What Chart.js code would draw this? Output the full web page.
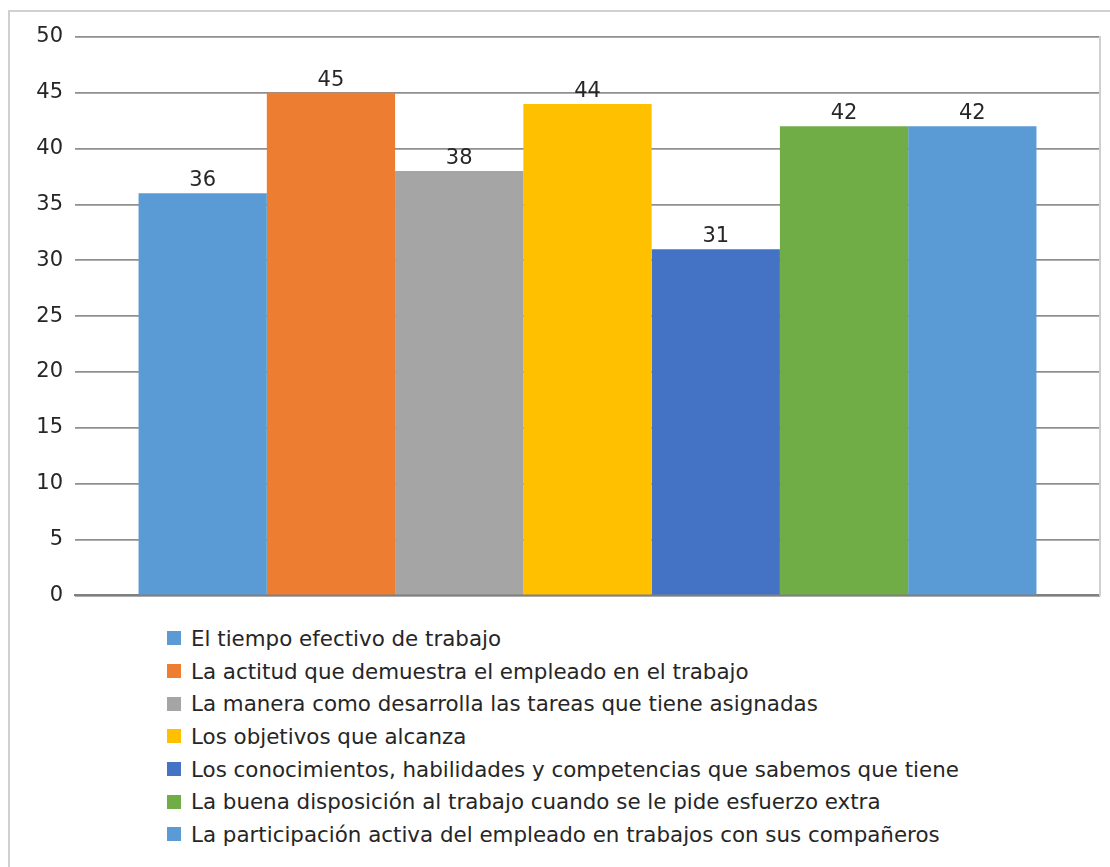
<!DOCTYPE html>
<html>
<head>
<meta charset="utf-8">
<script src="https://cdn.jsdelivr.net/npm/chart.js@4/dist/chart.umd.min.js"></script>
<style>
  html, body { margin: 0; padding: 0; background: #fff; }
  body { width: 1110px; height: 867px; overflow: hidden; position: relative; }
  #frame {
    position: absolute; left: 8px; top: 10px; width: 1120px; height: 880px;
    border-left: 2px solid #d0d0d0; border-top: 2px solid #d0d0d0;
  }
  #wrap { position: absolute; left: 0; top: 0; width: 1110px; height: 620px; }
  #legend {
    position: absolute; left: 167px; top: 622px;
    font-family: "DejaVu Sans", sans-serif; font-size: 21.4px; color: #262626;
  }
  .item { display: flex; align-items: center; height: 32.7px; white-space: nowrap; }
  .box { width: 14px; height: 14px; margin-right: 10px; flex: none; }
</style>
</head>
<body>
<div id="frame"></div>
<div id="wrap"><canvas id="chart"></canvas></div>
<div id="legend"></div>
<script>
// Survey aspects and how many responses each received
const aspects = [
  "El tiempo efectivo de trabajo",
  "La actitud que demuestra el empleado en el trabajo",
  "La manera como desarrolla las tareas que tiene asignadas",
  "Los objetivos que alcanza",
  "Los conocimientos, habilidades y competencias que sabemos que tiene",
  "La buena disposición al trabajo cuando se le pide esfuerzo extra",
  "La participación activa del empleado en trabajos con sus compañeros"
];
const counts = [36, 45, 38, 44, 31, 42, 42];
const colors = ["#5B9BD5", "#ED7D31", "#A5A5A5", "#FFC000", "#4472C4", "#70AD47", "#5B9BD5"];
const yTicks = [0, 5, 10, 15, 20, 25, 30, 35, 40, 45, 50];

const FONT = "'DejaVu Sans', sans-serif";

const datasets = aspects.map((name, i) => ({
  label: name,
  data: [counts[i]],
  backgroundColor: colors[i],
  borderWidth: 0,
  barPercentage: 1,
  categoryPercentage: 0.876
}));

// Value labels above each bar
const valueLabels = {
  id: 'valueLabels',
  afterDatasetsDraw(chart) {
    const ctx = chart.ctx;
    ctx.save();
    ctx.font = "21px " + FONT;
    ctx.fillStyle = "#262626";
    ctx.textAlign = "center";
    ctx.textBaseline = "alphabetic";
    chart.data.datasets.forEach((ds, i) => {
      chart.getDatasetMeta(i).data.forEach((bar, j) => {
        ctx.fillText(String(ds.data[j]), bar.x, bar.y - 7);
      });
    });
    ctx.restore();
  }
};

const chart = new Chart(document.getElementById('chart'), {
  type: 'bar',
  data: { labels: [""], datasets },
  options: {
    responsive: true,
    maintainAspectRatio: false,
    animation: false,
    layout: { padding: { left: 0, right: 10, top: 37, bottom: 8 } },
    plugins: {
      legend: { display: false },
      tooltip: { enabled: false }
    },
    scales: {
      x: {
        ticks: { display: false },
        grid: { display: false },
        border: { display: true, color: '#808080', width: 2 },
        afterFit(s) { s.height = 0; }
      },
      y: {
        min: 0, max: 50,
        afterBuildTicks(s) { s.ticks = yTicks.map(v => ({ value: v })); },
        ticks: {
          font: { family: FONT, size: 21 },
          color: '#262626',
          padding: 12
        },
        grid: { color: '#8f8f8f', lineWidth: 1.8, drawTicks: false },
        border: { display: false },
        afterFit(s) { s.width = 75; }
      },
      yRight: {
        position: 'right',
        min: 0, max: 50,
        ticks: { display: false },
        grid: { display: false },
        border: { display: true, color: '#d0d0d0', width: 2 },
        afterFit(s) { s.width = 0; }
      }
    }
  },
  plugins: [valueLabels]
});

// Vertical legend below the plot
const legend = document.getElementById('legend');
chart.data.datasets.forEach(ds => {
  const row = document.createElement('div');
  row.className = 'item';
  const box = document.createElement('span');
  box.className = 'box';
  box.style.background = ds.backgroundColor;
  const txt = document.createElement('span');
  txt.textContent = ds.label;
  row.appendChild(box);
  row.appendChild(txt);
  legend.appendChild(row);
});
</script>
</body>
</html>
